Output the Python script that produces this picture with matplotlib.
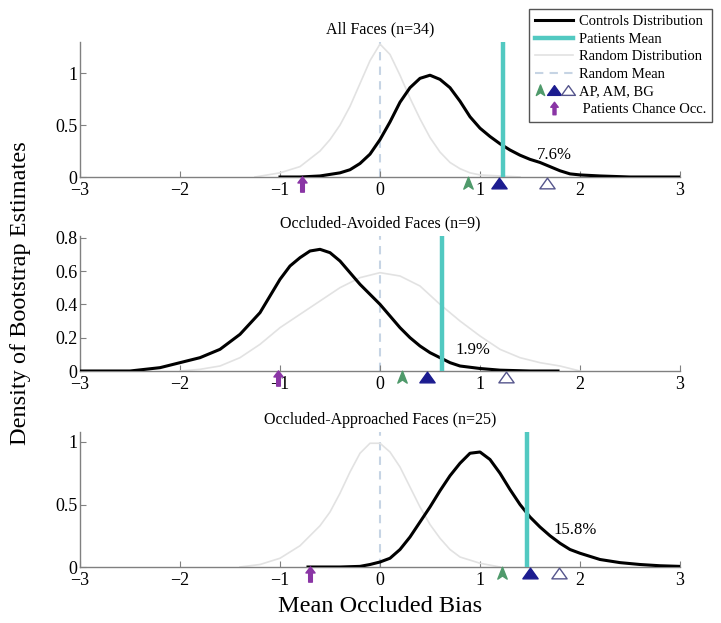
import matplotlib
matplotlib.use("Agg")
import matplotlib.pyplot as plt
from matplotlib.path import Path
from matplotlib.lines import Line2D
from matplotlib.legend_handler import HandlerTuple
from matplotlib.ticker import FuncFormatter
import matplotlib.transforms as mtransforms

# ------------------------------------------------------------------
# Data
# ------------------------------------------------------------------
titles = ["All Faces (n=34)", "Occluded-Avoided Faces (n=9)",
          "Occluded-Approached Faces (n=25)"]

# All faces
all_ctrl_x = [-1.0, -0.8, -0.6, -0.4, -0.3, -0.2, -0.1, 0.0, 0.1, 0.2, 0.3, 0.4,
              0.5, 0.6, 0.7, 0.8, 0.9, 1.0, 1.1, 1.2, 1.3, 1.4, 1.5, 1.6, 1.7,
              1.8, 1.9, 2.0, 2.2, 2.5, 3.0]
all_ctrl_y = [0.0, 0.0, 0.01, 0.04, 0.07, 0.13, 0.22, 0.36, 0.53, 0.72, 0.86, 0.95,
              0.98, 0.94, 0.86, 0.73, 0.58, 0.47, 0.39, 0.32, 0.26, 0.21, 0.17, 0.14,
              0.10, 0.06, 0.03, 0.02, 0.01, 0.0, 0.0]
all_rand_x = [-1.25, -1.0, -0.8, -0.6, -0.5, -0.4, -0.3, -0.2, -0.1, 0.0, 0.1, 0.2,
              0.3, 0.4, 0.5, 0.6, 0.7, 0.8, 0.9, 1.0, 1.2, 1.4]
all_rand_y = [0.0, 0.04, 0.10, 0.25, 0.36, 0.50, 0.68, 0.90, 1.12, 1.28, 1.18, 0.98,
              0.76, 0.56, 0.38, 0.24, 0.14, 0.08, 0.04, 0.02, 0.01, 0.0]

# Occluded-avoided faces
avoid_ctrl_x = [-3.0, -2.5, -2.2, -2.0, -1.8, -1.6, -1.4, -1.2, -1.0, -0.9, -0.8,
                -0.7, -0.6, -0.5, -0.4, -0.3, -0.2, -0.1, 0.0, 0.1, 0.2, 0.3, 0.4,
                0.5, 0.6, 0.7, 0.8, 1.0, 1.2, 1.5, 1.78]
avoid_ctrl_y = [0.0, 0.0, 0.02, 0.05, 0.08, 0.13, 0.22, 0.35, 0.55, 0.63, 0.68,
                0.72, 0.73, 0.71, 0.66, 0.59, 0.52, 0.46, 0.40, 0.33, 0.26, 0.20, 0.15,
                0.11, 0.08, 0.05, 0.03, 0.015, 0.005, 0.0, 0.0]
avoid_rand_x = [-2.0, -1.8, -1.6, -1.4, -1.2, -1.0, -0.8, -0.6, -0.4, -0.2, 0.0,
                0.2, 0.4, 0.6, 0.8, 1.0, 1.2, 1.4, 1.6, 1.8, 2.0]
avoid_rand_y = [0.0, 0.01, 0.03, 0.08, 0.16, 0.26, 0.34, 0.42, 0.50, 0.56, 0.59,
                0.57, 0.51, 0.40, 0.30, 0.21, 0.13, 0.08, 0.05, 0.03, 0.0]

# Occluded-approached faces
appr_ctrl_x = [-0.72, -0.4, -0.2, -0.1, 0.0, 0.1, 0.2, 0.3, 0.4, 0.5, 0.6, 0.7,
               0.8, 0.9, 1.0, 1.1, 1.2, 1.3, 1.4, 1.5, 1.6, 1.7, 1.8, 1.9, 2.0,
               2.2, 2.4, 2.6, 2.8, 3.0]
appr_ctrl_y = [0.0, 0.0, 0.005, 0.02, 0.04, 0.07, 0.14, 0.24, 0.36, 0.48, 0.61, 0.73,
               0.83, 0.91, 0.92, 0.86, 0.75, 0.62, 0.50, 0.40, 0.32, 0.25, 0.19, 0.14,
               0.11, 0.06, 0.035, 0.02, 0.01, 0.005]
appr_rand_x = [-1.4, -1.2, -1.0, -0.8, -0.6, -0.5, -0.4, -0.3, -0.2, -0.1, 0.0,
               0.1, 0.2, 0.3, 0.4, 0.5, 0.6, 0.7, 0.8, 1.0, 1.2]
appr_rand_y = [0.0, 0.02, 0.07, 0.17, 0.33, 0.44, 0.59, 0.76, 0.91, 0.99, 0.99,
               0.92, 0.80, 0.64, 0.48, 0.34, 0.23, 0.14, 0.08, 0.03, 0.0]

patients_mean = [1.23, 0.62, 1.47]
random_mean = [0.0, 0.0, 0.0]
ap_bias = [0.88, 0.22, 1.22]
am_bias = [1.19, 0.47, 1.50]
bg_bias = [1.67, 1.26, 1.79]
chance_occ = [-0.78, -1.02, -0.70]
pct_labels = ["7.6%", "1.9%", "15.8%"]

ctrl_x = [all_ctrl_x, avoid_ctrl_x, appr_ctrl_x]
ctrl_y = [all_ctrl_y, avoid_ctrl_y, appr_ctrl_y]
rand_x = [all_rand_x, avoid_rand_x, appr_rand_x]
rand_y = [all_rand_y, avoid_rand_y, appr_rand_y]

# ------------------------------------------------------------------
# Style
# ------------------------------------------------------------------
plt.rcParams["font.family"] = ["Liberation Serif", "DejaVu Serif"]

C_CTRL = "black"
C_PAT = "#52c9c1"
C_RAND = "#e2e2e2"
C_RMEAN = "#c6d4e4"
C_GREEN = "#4f9a6b"
C_BLUE = "#1c1c90"
C_OPEN = "#55558c"
C_PURPLE = "#8a35a5"
C_AXIS = "#808080"

TRI = Path([(0, 0.7), (1, -0.7), (-1, -0.7), (0, 0.7)],
           [Path.MOVETO, Path.LINETO, Path.LINETO, Path.CLOSEPOLY])
NOTCH = Path([(0, 1), (0.75, -0.9), (0, -0.4), (-0.75, -0.9), (0, 1)],
             [Path.MOVETO, Path.LINETO, Path.LINETO, Path.LINETO, Path.CLOSEPOLY])
UPARROW = Path([(0, 1), (0.6, 0.2), (0.24, 0.2), (0.24, -1), (-0.24, -1),
                (-0.24, 0.2), (-0.6, 0.2), (0, 1)],
               [Path.MOVETO] + [Path.LINETO] * 6 + [Path.CLOSEPOLY])

ylims = [1.30, 0.81, 1.08]
yticks = [[0, 0.5, 1], [0, 0.2, 0.4, 0.6, 0.8], [0, 0.5, 1]]
pct_pos = [(1.57, 0.21), (0.75, 0.126), (1.73, 0.30)]

fig = plt.figure(figsize=(7.21, 6.23), dpi=100)
left, width, height = 80 / 721, 600 / 721, 135 / 623
bottoms = [1 - 177 / 623, 1 - 371 / 623, 1 - 567 / 623]

for i in range(3):
    ax = fig.add_axes([left, bottoms[i], width, height])
    ymax = ylims[i]

    ax.plot(rand_x[i], rand_y[i], color=C_RAND, lw=1.2, zorder=2)
    ax.plot([random_mean[i]] * 2, [0, ymax], color=C_RMEAN, lw=1.5,
            ls=(0, (4, 3)), zorder=1)
    ax.plot(ctrl_x[i], ctrl_y[i], color=C_CTRL, lw=2.2, zorder=3)
    ax.plot([patients_mean[i]] * 2, [0, ymax], color=C_PAT, lw=3.2, zorder=4)

    ax.text(pct_pos[i][0], pct_pos[i][1], pct_labels[i], fontsize=12,
            ha="left", va="center")

    # subject markers just below the axis line
    trans = mtransforms.offset_copy(ax.transData, fig=fig, y=-5.5, units="dots")
    kw = dict(ls="none", clip_on=False, transform=trans, zorder=6)
    ax.plot([ap_bias[i]], [0], marker=NOTCH, ms=9, color=C_GREEN, mec=C_GREEN, **kw)
    ax.plot([am_bias[i]], [0], marker=TRI, ms=11, color=C_BLUE, mec=C_BLUE, **kw)
    ax.plot([bg_bias[i]], [0], marker=TRI, ms=11, mfc="white", mec=C_OPEN,
            mew=1.0, **kw)
    trans2 = mtransforms.offset_copy(ax.transData, fig=fig, y=-6.5, units="dots")
    ax.plot([chance_occ[i]], [0], marker=UPARROW, ms=11, color=C_PURPLE,
            ls="none", clip_on=False, transform=trans2, zorder=6)

    ax.set_xlim(-3, 3)
    ax.set_ylim(0, ymax)
    ax.set_xticks([-3, -2, -1, 0, 1, 2, 3])
    ax.set_yticks(yticks[i])
    ax.yaxis.set_major_formatter(FuncFormatter(lambda v, p: f"{v:g}"))
    for s in ["top", "right"]:
        ax.spines[s].set_visible(False)
    for s in ["left", "bottom"]:
        ax.spines[s].set_color(C_AXIS)
        ax.spines[s].set_linewidth(1.0)
    ax.tick_params(direction="in", length=4, width=0.8, color=C_AXIS,
                   labelsize=13, labelcolor="black")
    ax.tick_params(axis="x", pad=3.5)
    ax.tick_params(axis="y", pad=2)
    ax.set_title(titles[i], fontsize=11.5, pad=6)

fig.text(0.028, 0.53, "Density of Bootstrap Estimates", rotation=90,
         ha="center", va="center", fontsize=17.5)
fig.text(380 / 721, 0.026, "Mean Occluded Bias", ha="center", va="center",
         fontsize=17.5)

# legend
handles = [
    Line2D([], [], color=C_CTRL, lw=2.2),
    Line2D([], [], color=C_PAT, lw=3.2),
    Line2D([], [], color=C_RAND, lw=1.2),
    Line2D([], [], color=C_RMEAN, lw=1.5, ls=(0, (4, 3))),
    (Line2D([], [], ls="none", marker=NOTCH, ms=8, color=C_GREEN),
     Line2D([], [], ls="none", marker=TRI, ms=10, color=C_BLUE),
     Line2D([], [], ls="none", marker=TRI, ms=10, mfc="white", mec=C_OPEN)),
    Line2D([], [], ls="none", marker=UPARROW, ms=9, color=C_PURPLE),
]
labels = ["Controls Distribution", "Patients Mean", "Random Distribution",
          "Random Mean", "AP, AM, BG", " Patients Chance Occ."]
leg = fig.legend(handles, labels, loc="upper right",
                 bbox_to_anchor=(712 / 721, 1 - 9 / 623), borderaxespad=0,
                 fontsize=10.5, handlelength=2.6, handletextpad=0.4,
                 labelspacing=0.3, borderpad=0.4, fancybox=False,
                 framealpha=1, edgecolor="#555555",
                 handler_map={tuple: HandlerTuple(ndivide=None, pad=0.2)})
leg.get_frame().set_linewidth(1.0)

fig.savefig("out.png", dpi=100)
